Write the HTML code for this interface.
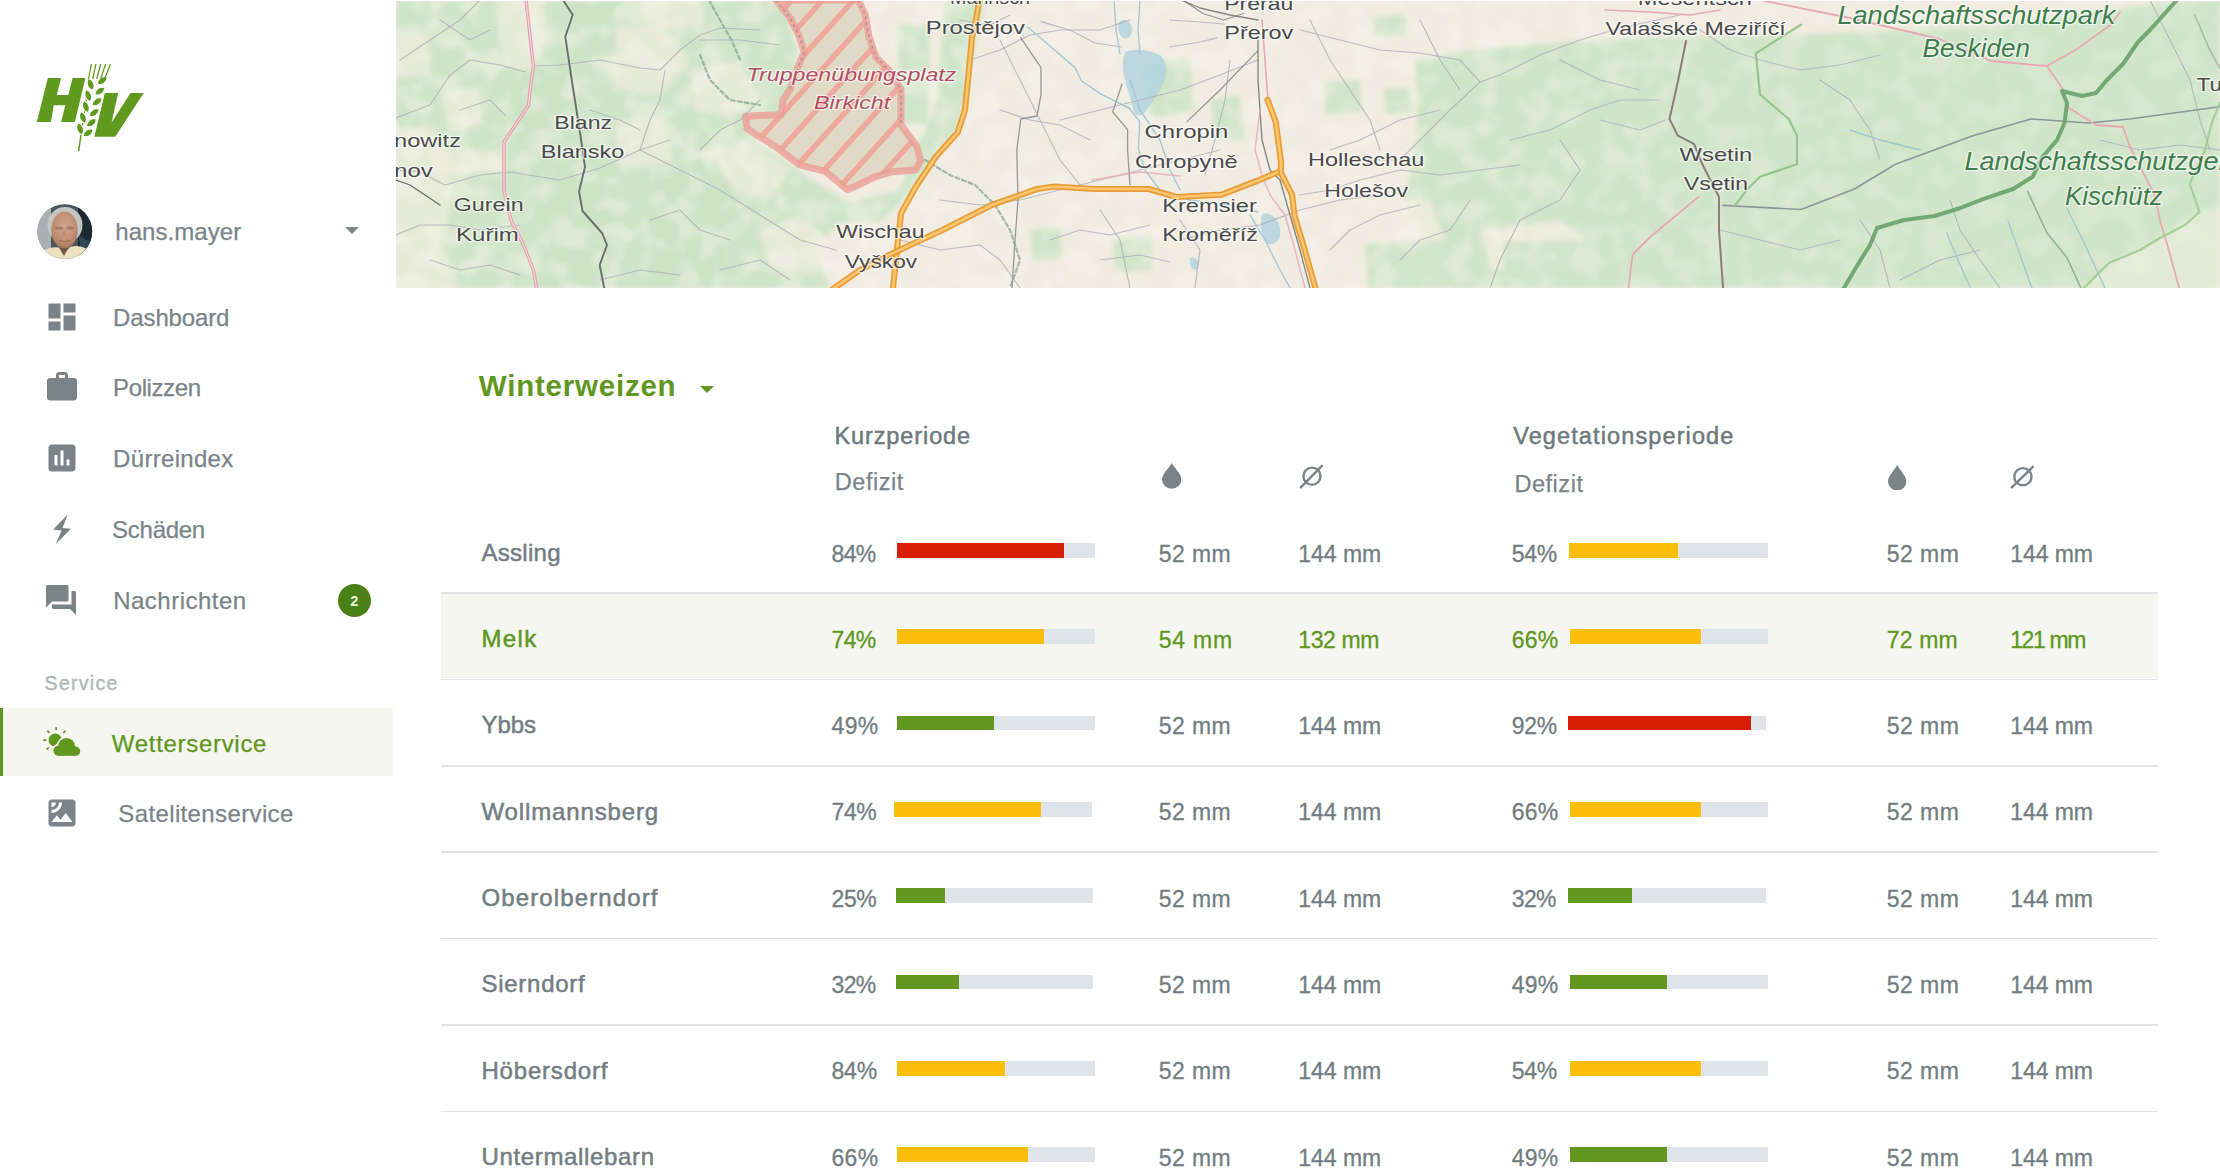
<!DOCTYPE html>
<html><head><meta charset="utf-8"><title>Wetterservice</title>
<style>
html,body{margin:0;padding:0}
body{width:2220px;height:1174px;overflow:hidden;position:relative;background:#fff;font-family:"Liberation Sans",sans-serif}
.abs{position:absolute}
.t{position:absolute;white-space:nowrap;line-height:1}
.tri{width:0;height:0;border-style:solid}
</style></head><body>
<svg class="abs" style="left:396px;top:1px" width="1824" height="287" viewBox="396 1 1824 287">
<defs><clipPath id="mc"><path d="M396,1 H2220 V288 H399 A3,3 0 0 1 396,285 Z"/></clipPath><pattern id="hatch" patternUnits="userSpaceOnUse" width="27" height="27" patternTransform="rotate(-38)"><rect width="22" height="22" fill="#e4dccb"/><rect width="22" height="5" fill="#eba69b"/></pattern><filter id="blur1" x="-5%" y="-5%" width="110%" height="110%"><feGaussianBlur stdDeviation="2.5"/></filter><filter id="mottle" x="396" y="0" width="1824" height="290" filterUnits="userSpaceOnUse"><feTurbulence type="fractalNoise" baseFrequency="0.04" numOctaves="2" seed="11" result="n"/><feColorMatrix in="n" type="matrix" values="0 0 0 0 0.95  0 0 0 0 0.93  0 0 0 0 0.885  4.5 0 0 0 -2.0"/><feGaussianBlur stdDeviation="1.2"/></filter></defs>
<g clip-path="url(#mc)">
<rect x="396" y="0" width="1824" height="290" fill="#f1ece1"/>
<g filter="url(#blur1)">
<polygon points="396,0 783,0 800,60 790,95 780,118 745,118 748,135 805,175 850,203 900,190 915,150 935,110 940,60 945,0 985,0 960,125 935,160 905,200 880,222 840,222 815,250 830,288 396,288" fill="#d0e5c8" fill-opacity="1" />
<polygon points="396,130 430,125 448,150 452,200 440,240 460,288 396,288" fill="#f1ece1" fill-opacity="0.65" />
<polygon points="500,0 545,0 548,40 530,72 505,66 498,30" fill="#f1ece1" fill-opacity="0.65" />
<polygon points="440,90 478,88 482,125 450,132" fill="#f1ece1" fill-opacity="0.65" />
<polygon points="430,150 500,150 505,172 435,175" fill="#f1ece1" fill-opacity="0.65" />
<polygon points="600,30 660,25 690,60 660,95 615,90" fill="#f1ece1" fill-opacity="0.65" />
<polygon points="690,70 740,60 760,100 730,118 695,110" fill="#f1ece1" fill-opacity="0.65" />
<polygon points="615,120 665,118 672,160 620,170" fill="#f1ece1" fill-opacity="0.65" />
<polygon points="396,35 428,35 430,75 396,78" fill="#f1ece1" fill-opacity="0.65" />
<polygon points="700,150 750,140 790,170 770,200 720,190" fill="#f1ece1" fill-opacity="0.65" />
<polygon points="640,0 700,0 705,25 650,30" fill="#f1ece1" fill-opacity="0.65" />
<polygon points="760,230 800,215 830,240 815,275 770,270" fill="#f1ece1" fill-opacity="0.65" />
<polygon points="560,230 600,220 610,260 570,265" fill="#f1ece1" fill-opacity="0.65" />
<polygon points="508,72 568,68 575,140 520,150" fill="#cbe2c3" fill-opacity="0.9" />
<polygon points="533,165 615,160 625,288 540,288" fill="#cbe2c3" fill-opacity="0.9" />
<polygon points="655,165 716,160 740,200 720,288 650,288" fill="#cbe2c3" fill-opacity="0.9" />
<polygon points="570,0 620,0 615,55 575,60" fill="#cbe2c3" fill-opacity="0.9" />
<polygon points="1415,62 1470,50 1560,42 1640,38 1700,38 1760,36 1820,34 1900,30 2000,26 2100,10 2200,0 2220,0 2220,288 1440,288 1432,250 1405,205 1418,130" fill="#d0e5c8" fill-opacity="1" />
<polygon points="1308,195 1430,200 1445,240 1440,288 1308,288" fill="#f1ece1" fill-opacity="0.8" />
<polygon points="1480,230 1560,220 1600,250 1560,275 1490,270" fill="#f1ece1" fill-opacity="0.8" />
<polygon points="2081,292 2109,263 2160,238 2199,212 2220,205 2220,292" fill="#e4ebd8" fill-opacity="0.95" />
<polygon points="1140,62 1189,58 1195,110 1150,118" fill="#d0e5c8" fill-opacity="0.95" />
<polygon points="1324,82 1360,80 1362,112 1326,114" fill="#d0e5c8" fill-opacity="0.95" />
<polygon points="1384,89 1411,88 1413,113 1385,114" fill="#d0e5c8" fill-opacity="0.95" />
<polygon points="1373,16 1405,15 1407,35 1375,36" fill="#d0e5c8" fill-opacity="0.95" />
<polygon points="1113,238 1151,236 1152,270 1115,272" fill="#d0e5c8" fill-opacity="0.95" />
<polygon points="1365,243 1460,240 1462,288 1368,288" fill="#d0e5c8" fill-opacity="0.95" />
<polygon points="1503,243 1600,240 1600,288 1505,288" fill="#d0e5c8" fill-opacity="0.95" />
<polygon points="897,25 930,25 928,125 900,123" fill="#d0e5c8" fill-opacity="0.95" />
<polygon points="1030,230 1060,228 1062,258 1032,260" fill="#d0e5c8" fill-opacity="0.95" />
<polygon points="1210,100 1240,95 1245,140 1215,140" fill="#d0e5c8" fill-opacity="0.95" />
</g>
<mask id="mm"><rect x="396" y="0" width="1824" height="290" fill="url(#mg)"/></mask>
<linearGradient id="mg" gradientUnits="userSpaceOnUse" x1="396" y1="0" x2="2220" y2="0"><stop offset="0" stop-color="#fff" stop-opacity="0.38"/><stop offset="0.3" stop-color="#fff" stop-opacity="0.35"/><stop offset="0.6" stop-color="#fff" stop-opacity="0.3"/><stop offset="1" stop-color="#fff" stop-opacity="0.15"/></linearGradient>
<rect x="396" y="0" width="1824" height="290" filter="url(#mottle)" mask="url(#mm)"/>
<path d="M1125,52 C1135,48 1150,50 1160,55 C1167,60 1168,75 1163,85 C1158,95 1150,105 1145,112 C1140,118 1134,116 1133,108 C1131,98 1127,90 1125,80 C1122,70 1122,60 1125,52Z" fill="#b3d4de" fill-opacity="0.85"/>
<path d="M1119,22 C1124,18 1131,20 1132,28 C1133,35 1128,40 1123,38 C1119,35 1117,28 1119,22Z" fill="#b3d4de" fill-opacity="0.85"/>
<path d="M1262,214 C1270,212 1278,218 1280,228 C1282,238 1276,246 1268,244 C1262,240 1259,225 1262,214Z" fill="#b3d4de" fill-opacity="0.85"/>
<path d="M1190,258 C1196,256 1200,262 1198,268 C1195,272 1189,270 1190,258Z" fill="#b3d4de" fill-opacity="0.85"/>
<clipPath id="milc"><polygon points="775.8,0 790,17.9 799,35.8 804.4,51.9 799,64.4 790,89.4 783,100 781,114.5 745.4,116.3 747,128.8 775.8,146.7 799,164.6 825.9,171.7 847.3,189.6 856.3,186 874.2,177.1 892,171.7 915.3,170 920.7,161 917,146.7 901,125.2 901,89.4 890.3,71.6 876,57.2 868.8,35.8 865.2,14.3 858,0"/></clipPath>
<polygon points="775.8,0 790,17.9 799,35.8 804.4,51.9 799,64.4 790,89.4 783,100 781,114.5 745.4,116.3 747,128.8 775.8,146.7 799,164.6 825.9,171.7 847.3,189.6 856.3,186 874.2,177.1 892,171.7 915.3,170 920.7,161 917,146.7 901,125.2 901,89.4 890.3,71.6 876,57.2 868.8,35.8 865.2,14.3 858,0" fill="#e0d9c6"/>
<g clip-path="url(#milc)" stroke="#eda99e" stroke-width="5.5">
<line x1="287.4" y1="10.1" x2="688.9" y2="-435.7"/>
<line x1="304.5" y1="25.5" x2="706.0" y2="-420.4"/>
<line x1="321.6" y1="40.9" x2="723.1" y2="-405.0"/>
<line x1="338.7" y1="56.3" x2="740.2" y2="-389.6"/>
<line x1="355.8" y1="71.7" x2="757.3" y2="-374.2"/>
<line x1="372.9" y1="87.1" x2="774.4" y2="-358.8"/>
<line x1="390.0" y1="102.5" x2="791.4" y2="-343.4"/>
<line x1="407.1" y1="117.9" x2="808.5" y2="-328.0"/>
<line x1="424.2" y1="133.3" x2="825.6" y2="-312.6"/>
<line x1="441.2" y1="148.7" x2="842.7" y2="-297.2"/>
<line x1="458.3" y1="164.0" x2="859.8" y2="-281.8"/>
<line x1="475.4" y1="179.4" x2="876.9" y2="-266.5"/>
<line x1="492.5" y1="194.8" x2="894.0" y2="-251.1"/>
<line x1="509.6" y1="210.2" x2="911.1" y2="-235.7"/>
<line x1="526.7" y1="225.6" x2="928.2" y2="-220.3"/>
<line x1="543.8" y1="241.0" x2="945.3" y2="-204.9"/>
<line x1="560.9" y1="256.4" x2="962.4" y2="-189.5"/>
<line x1="578.0" y1="271.8" x2="979.5" y2="-174.1"/>
<line x1="595.1" y1="287.2" x2="996.6" y2="-158.7"/>
<line x1="612.2" y1="302.6" x2="1013.6" y2="-143.3"/>
<line x1="629.3" y1="317.9" x2="1030.7" y2="-127.9"/>
<line x1="646.4" y1="333.3" x2="1047.8" y2="-112.6"/>
<line x1="663.4" y1="348.7" x2="1064.9" y2="-97.2"/>
<line x1="680.5" y1="364.1" x2="1082.0" y2="-81.8"/>
<line x1="697.6" y1="379.5" x2="1099.1" y2="-66.4"/>
<line x1="714.7" y1="394.9" x2="1116.2" y2="-51.0"/>
<line x1="731.8" y1="410.3" x2="1133.3" y2="-35.6"/>
<line x1="748.9" y1="425.7" x2="1150.4" y2="-20.2"/>
<line x1="766.0" y1="441.1" x2="1167.5" y2="-4.8"/>
<line x1="783.1" y1="456.5" x2="1184.6" y2="10.6"/>
<line x1="800.2" y1="471.8" x2="1201.7" y2="26.0"/>
<line x1="817.3" y1="487.2" x2="1218.8" y2="41.3"/>
<line x1="834.4" y1="502.6" x2="1235.8" y2="56.7"/>
<line x1="851.5" y1="518.0" x2="1252.9" y2="72.1"/>
<line x1="868.6" y1="533.4" x2="1270.0" y2="87.5"/>
<line x1="885.6" y1="548.8" x2="1287.1" y2="102.9"/>
<line x1="902.7" y1="564.2" x2="1304.2" y2="118.3"/>
<line x1="919.8" y1="579.6" x2="1321.3" y2="133.7"/>
<line x1="936.9" y1="595.0" x2="1338.4" y2="149.1"/>
<line x1="954.0" y1="610.4" x2="1355.5" y2="164.5"/>
</g>
<polygon points="775.8,0 790,17.9 799,35.8 804.4,51.9 799,64.4 790,89.4 783,100 781,114.5 745.4,116.3 747,128.8 775.8,146.7 799,164.6 825.9,171.7 847.3,189.6 856.3,186 874.2,177.1 892,171.7 915.3,170 920.7,161 917,146.7 901,125.2 901,89.4 890.3,71.6 876,57.2 868.8,35.8 865.2,14.3 858,0" fill="none" stroke="#eb9f96" stroke-width="7" stroke-opacity="0.8" stroke-linejoin="round"/>
<polyline points="775.8,0 790,17.9 799,35.8 804.4,51.9 799,64.4 790,89.4" fill="none" stroke="#9a8f8a" stroke-width="1.6" stroke-dasharray="3 3" opacity="0.7"/>
<polyline points="858,0 865.2,14.3 868.8,35.8 876,57.2 890.3,71.6 901,89.4 901,125.2" fill="none" stroke="#9a8f8a" stroke-width="1.6" stroke-dasharray="3 3" opacity="0.7"/>
<polyline points="396,118 430,105 450,75 470,60 500,65 525,72" fill="none" stroke="#b2b2ba" stroke-width="1.2" stroke-opacity="0.85" stroke-linejoin="round" stroke-linecap="round"/>
<polyline points="396,170 420,172 445,185 480,175 510,172 560,180 600,168 640,150 670,140" fill="none" stroke="#b2b2ba" stroke-width="1.2" stroke-opacity="0.85" stroke-linejoin="round" stroke-linecap="round"/>
<polyline points="396,235 420,225 450,225 480,230 520,225" fill="none" stroke="#b2b2ba" stroke-width="1.2" stroke-opacity="0.85" stroke-linejoin="round" stroke-linecap="round"/>
<polyline points="533,66 560,65 600,60 640,68 660,70" fill="none" stroke="#b2b2ba" stroke-width="1.2" stroke-opacity="0.85" stroke-linejoin="round" stroke-linecap="round"/>
<polyline points="660,70 680,50 700,35 720,28 760,30" fill="none" stroke="#b2b2ba" stroke-width="1.2" stroke-opacity="0.85" stroke-linejoin="round" stroke-linecap="round"/>
<polyline points="640,150 650,120 660,100 665,70" fill="none" stroke="#b2b2ba" stroke-width="1.2" stroke-opacity="0.85" stroke-linejoin="round" stroke-linecap="round"/>
<polyline points="700,150 720,130 740,120 760,100" fill="none" stroke="#b2b2ba" stroke-width="1.2" stroke-opacity="0.85" stroke-linejoin="round" stroke-linecap="round"/>
<polyline points="640,150 680,170 720,190 760,215 800,240 836,250" fill="none" stroke="#b2b2ba" stroke-width="1.2" stroke-opacity="0.85" stroke-linejoin="round" stroke-linecap="round"/>
<polyline points="700,40 740,40 780,45" fill="none" stroke="#b2b2ba" stroke-width="1.2" stroke-opacity="0.85" stroke-linejoin="round" stroke-linecap="round"/>
<polyline points="970,60 1000,50 1030,35 1060,30 1100,30 1130,20" fill="none" stroke="#b2b2ba" stroke-width="1.2" stroke-opacity="0.85" stroke-linejoin="round" stroke-linecap="round"/>
<polyline points="1000,40 1020,80 1040,120 1060,160 1080,185" fill="none" stroke="#b2b2ba" stroke-width="1.2" stroke-opacity="0.85" stroke-linejoin="round" stroke-linecap="round"/>
<polyline points="940,200 980,205 1020,200 1060,190 1100,180 1140,170 1180,160 1220,150" fill="none" stroke="#b2b2ba" stroke-width="1.2" stroke-opacity="0.85" stroke-linejoin="round" stroke-linecap="round"/>
<polyline points="1060,120 1100,110 1140,100 1180,90 1220,75 1258,60" fill="none" stroke="#b2b2ba" stroke-width="1.2" stroke-opacity="0.85" stroke-linejoin="round" stroke-linecap="round"/>
<polyline points="1180,240 1220,230 1260,225 1300,210 1340,200 1380,195" fill="none" stroke="#b2b2ba" stroke-width="1.2" stroke-opacity="0.85" stroke-linejoin="round" stroke-linecap="round"/>
<polyline points="1300,195 1330,190 1360,180 1400,170 1440,175 1480,170 1520,165" fill="none" stroke="#b2b2ba" stroke-width="1.2" stroke-opacity="0.85" stroke-linejoin="round" stroke-linecap="round"/>
<polyline points="1300,30 1340,40 1380,50 1420,53 1460,60 1480,82 1500,75 1540,55 1580,40 1620,28 1680,15" fill="none" stroke="#b2b2ba" stroke-width="1.2" stroke-opacity="0.85" stroke-linejoin="round" stroke-linecap="round"/>
<polyline points="1480,82 1450,110 1420,140 1400,160 1370,160" fill="none" stroke="#b2b2ba" stroke-width="1.2" stroke-opacity="0.85" stroke-linejoin="round" stroke-linecap="round"/>
<polyline points="1510,140 1550,130 1590,110 1620,100 1660,100" fill="none" stroke="#b2b2ba" stroke-width="1.2" stroke-opacity="0.85" stroke-linejoin="round" stroke-linecap="round"/>
<polyline points="1560,140 1580,170 1560,200 1520,220 1500,260 1490,288" fill="none" stroke="#b2b2ba" stroke-width="1.2" stroke-opacity="0.85" stroke-linejoin="round" stroke-linecap="round"/>
<polyline points="1700,30 1730,50 1760,60 1800,70 1840,65 1880,55" fill="none" stroke="#b2b2ba" stroke-width="1.2" stroke-opacity="0.85" stroke-linejoin="round" stroke-linecap="round"/>
<polyline points="1820,80 1850,100 1870,130 1880,160" fill="none" stroke="#b2b2ba" stroke-width="1.2" stroke-opacity="0.85" stroke-linejoin="round" stroke-linecap="round"/>
<polyline points="1950,200 1960,230 1980,260 2000,288" fill="none" stroke="#b2b2ba" stroke-width="1.2" stroke-opacity="0.85" stroke-linejoin="round" stroke-linecap="round"/>
<polyline points="1860,220 1880,250 1890,288" fill="none" stroke="#b2b2ba" stroke-width="1.2" stroke-opacity="0.85" stroke-linejoin="round" stroke-linecap="round"/>
<polyline points="2150,0 2170,40 2190,80 2200,120 2210,150" fill="none" stroke="#b2b2ba" stroke-width="1.2" stroke-opacity="0.85" stroke-linejoin="round" stroke-linecap="round"/>
<polyline points="900,240 940,250 980,245 1000,260 1020,288" fill="none" stroke="#b2b2ba" stroke-width="1.2" stroke-opacity="0.85" stroke-linejoin="round" stroke-linecap="round"/>
<polyline points="1100,210 1120,240 1130,288" fill="none" stroke="#b2b2ba" stroke-width="1.2" stroke-opacity="0.85" stroke-linejoin="round" stroke-linecap="round"/>
<polyline points="1180,220 1200,250 1195,288" fill="none" stroke="#b2b2ba" stroke-width="1.2" stroke-opacity="0.85" stroke-linejoin="round" stroke-linecap="round"/>
<polyline points="400,60 430,40 460,20 480,0" fill="none" stroke="#b2b2ba" stroke-width="1.2" stroke-opacity="0.85" stroke-linejoin="round" stroke-linecap="round"/>
<polyline points="590,110 620,120 640,130" fill="none" stroke="#b2b2ba" stroke-width="1.2" stroke-opacity="0.85" stroke-linejoin="round" stroke-linecap="round"/>
<polyline points="1230,60 1225,100 1215,140 1205,175" fill="none" stroke="#b2b2ba" stroke-width="1.2" stroke-opacity="0.85" stroke-linejoin="round" stroke-linecap="round"/>
<polyline points="1041,21.6 1070,30 1095,43 1122,47" fill="none" stroke="#b2b2ba" stroke-width="1.2" stroke-opacity="0.85" stroke-linejoin="round" stroke-linecap="round"/>
<polyline points="1169.5,20 1200,22 1223.5,24" fill="none" stroke="#b2b2ba" stroke-width="1.2" stroke-opacity="0.85" stroke-linejoin="round" stroke-linecap="round"/>
<polyline points="1169.5,47 1200,42 1216.8,37.8" fill="none" stroke="#b2b2ba" stroke-width="1.2" stroke-opacity="0.85" stroke-linejoin="round" stroke-linecap="round"/>
<polyline points="1310,20 1330,60 1350,90 1370,120 1380,150" fill="none" stroke="#b2b2ba" stroke-width="1.2" stroke-opacity="0.85" stroke-linejoin="round" stroke-linecap="round"/>
<polyline points="1420,20 1440,60 1460,90" fill="none" stroke="#b2b2ba" stroke-width="1.2" stroke-opacity="0.85" stroke-linejoin="round" stroke-linecap="round"/>
<polyline points="1330,150 1360,140 1400,120 1440,110" fill="none" stroke="#b2b2ba" stroke-width="1.2" stroke-opacity="0.85" stroke-linejoin="round" stroke-linecap="round"/>
<polyline points="1330,250 1350,230 1380,215 1420,205" fill="none" stroke="#b2b2ba" stroke-width="1.2" stroke-opacity="0.85" stroke-linejoin="round" stroke-linecap="round"/>
<polyline points="1400,260 1420,240 1450,230 1470,200" fill="none" stroke="#b2b2ba" stroke-width="1.2" stroke-opacity="0.85" stroke-linejoin="round" stroke-linecap="round"/>
<polyline points="1050,240 1080,230 1110,235 1150,225" fill="none" stroke="#b2b2ba" stroke-width="1.2" stroke-opacity="0.85" stroke-linejoin="round" stroke-linecap="round"/>
<polyline points="1000,110 1030,120 1060,125 1090,140" fill="none" stroke="#b2b2ba" stroke-width="1.2" stroke-opacity="0.85" stroke-linejoin="round" stroke-linecap="round"/>
<polyline points="960,20 990,25 1010,15" fill="none" stroke="#b2b2ba" stroke-width="1.2" stroke-opacity="0.85" stroke-linejoin="round" stroke-linecap="round"/>
<polyline points="1100,260 1140,255 1170,262" fill="none" stroke="#b2b2ba" stroke-width="1.2" stroke-opacity="0.85" stroke-linejoin="round" stroke-linecap="round"/>
<polyline points="440,20 470,40 490,30" fill="none" stroke="#b2b2ba" stroke-width="1.2" stroke-opacity="0.85" stroke-linejoin="round" stroke-linecap="round"/>
<polyline points="460,110 490,100 505,115" fill="none" stroke="#b2b2ba" stroke-width="1.2" stroke-opacity="0.85" stroke-linejoin="round" stroke-linecap="round"/>
<polyline points="430,260 460,270 490,265 520,275" fill="none" stroke="#b2b2ba" stroke-width="1.2" stroke-opacity="0.85" stroke-linejoin="round" stroke-linecap="round"/>
<polyline points="650,220 680,210 700,230 730,240" fill="none" stroke="#b2b2ba" stroke-width="1.2" stroke-opacity="0.85" stroke-linejoin="round" stroke-linecap="round"/>
<polyline points="600,280 640,270 680,275" fill="none" stroke="#b2b2ba" stroke-width="1.2" stroke-opacity="0.85" stroke-linejoin="round" stroke-linecap="round"/>
<polyline points="720,270 760,260 790,280" fill="none" stroke="#b2b2ba" stroke-width="1.2" stroke-opacity="0.85" stroke-linejoin="round" stroke-linecap="round"/>
<polyline points="1600,120 1640,130 1665,120" fill="none" stroke="#b2b2ba" stroke-width="1.2" stroke-opacity="0.85" stroke-linejoin="round" stroke-linecap="round"/>
<polyline points="1560,60 1600,80 1640,90" fill="none" stroke="#b2b2ba" stroke-width="1.2" stroke-opacity="0.85" stroke-linejoin="round" stroke-linecap="round"/>
<polyline points="1720,230 1760,240 1800,250 1840,240" fill="none" stroke="#b2b2ba" stroke-width="1.2" stroke-opacity="0.85" stroke-linejoin="round" stroke-linecap="round"/>
<polyline points="1900,280 1940,260 1980,250" fill="none" stroke="#b2b2ba" stroke-width="1.2" stroke-opacity="0.85" stroke-linejoin="round" stroke-linecap="round"/>
<polyline points="2100,140 2140,150 2180,145 2220,150" fill="none" stroke="#b2b2ba" stroke-width="1.2" stroke-opacity="0.85" stroke-linejoin="round" stroke-linecap="round"/>
<polyline points="1020.8,37.8 1041,67.6 1041,94.6 1037,116 1020.8,119 1016.8,150 1018,200 1015,240 1012,288" fill="none" stroke="#8b8d90" stroke-width="1.3" stroke-opacity="0.9" stroke-linejoin="round" stroke-linecap="round"/>
<polyline points="1122,84 1112.7,112 1127.6,129.7 1127.6,150 1130,185" fill="none" stroke="#8b8d90" stroke-width="1.3" stroke-opacity="0.9" stroke-linejoin="round" stroke-linecap="round"/>
<polyline points="1187,121.6 1220,90 1257.3,51.4" fill="none" stroke="#8b8d90" stroke-width="1.3" stroke-opacity="0.9" stroke-linejoin="round" stroke-linecap="round"/>
<polyline points="1183,0 1203,13.5 1223.5,20 1243.8,13.5" fill="none" stroke="#8b8d90" stroke-width="1.3" stroke-opacity="0.9" stroke-linejoin="round" stroke-linecap="round"/>
<polyline points="1027.6,27 1054.6,50 1074.9,67.6 1081.6,81 1101.9,94.6 1129,108 1139.7,121.6 1138.4,148.6 1145,170 1160,190 1190,200 1230,205 1258,212" fill="none" stroke="#9cc3d3" stroke-width="1.4" stroke-opacity="0.9" stroke-linejoin="round" stroke-linecap="round"/>
<polyline points="1114,0 1116,30 1120,54" fill="none" stroke="#9cc3d3" stroke-width="1.4" stroke-opacity="0.9" stroke-linejoin="round" stroke-linecap="round"/>
<polyline points="1140,0 1138,30 1140,54" fill="none" stroke="#9cc3d3" stroke-width="1.4" stroke-opacity="0.9" stroke-linejoin="round" stroke-linecap="round"/>
<polyline points="1130,80 1140,110 1160,140 1170,170 1180,190" fill="none" stroke="#9cc3d3" stroke-width="1.4" stroke-opacity="0.9" stroke-linejoin="round" stroke-linecap="round"/>
<polyline points="1250,215 1265,240 1280,270 1290,288" fill="none" stroke="#9cc3d3" stroke-width="1.4" stroke-opacity="0.9" stroke-linejoin="round" stroke-linecap="round"/>
<polyline points="1850,130 1880,140 1920,150" fill="none" stroke="#9cc3d3" stroke-width="1.4" stroke-opacity="0.9" stroke-linejoin="round" stroke-linecap="round"/>
<polyline points="2008,220.8 2020,255 2032.7,290" fill="none" stroke="#9cc3d3" stroke-width="1.4" stroke-opacity="0.9" stroke-linejoin="round" stroke-linecap="round"/>
<polyline points="2067,208.5 2085,245 2106,290" fill="none" stroke="#9cc3d3" stroke-width="1.4" stroke-opacity="0.9" stroke-linejoin="round" stroke-linecap="round"/>
<polyline points="1946.8,233 1958,260 1971.4,290" fill="none" stroke="#9cc3d3" stroke-width="1.4" stroke-opacity="0.9" stroke-linejoin="round" stroke-linecap="round"/>
<polyline points="2027.6,191.4 2047,233 2067,257.6 2081.8,290" fill="none" stroke="#88a88a" stroke-width="1.5" stroke-opacity="0.9" stroke-linejoin="round" stroke-linecap="round"/>
<polyline points="563,0 572.7,14.7 565.3,36.8 572.7,86 580,132.5 585,167 579,191.4 582.5,211 602,233 607,245 599.7,265 604.6,290" fill="none" stroke="#6b6e70" stroke-width="1.9" stroke-opacity="1" stroke-linejoin="round" stroke-linecap="round"/>
<polyline points="396,180 410,185 425,195 440,205" fill="none" stroke="#6b6e70" stroke-width="1.3" stroke-opacity="1" stroke-linejoin="round" stroke-linecap="round"/>
<polyline points="1258,40 1258,80 1260,110 1262,140 1270,170 1280,180 1290,215 1300,250 1310,288" fill="none" stroke="#6b6e70" stroke-width="1.3" stroke-opacity="0.85" stroke-linejoin="round" stroke-linecap="round"/>
<polyline points="1181,0 1200,8 1230,15 1258,20" fill="none" stroke="#6b6e70" stroke-width="1.3" stroke-opacity="0.8" stroke-linejoin="round" stroke-linecap="round"/>
<polyline points="1723,205.4 1801,209.5 1854.4,189 1895.5,164.3 1973.6,135.6 2031,119 2088.6,123 2129.7,119 2220,106.8" fill="none" stroke="#7f8794" stroke-width="1.6" stroke-opacity="0.85" stroke-linejoin="round" stroke-linecap="round"/>
<polyline points="1686,41 1677.8,82 1669.5,119 1677.8,135.6 1694,143.8 1702.4,164.3 1719,197 1719,230 1723,287.6" fill="none" stroke="#806a6c" stroke-width="2.0" stroke-opacity="0.85" stroke-linejoin="round" stroke-linecap="round"/>
<polyline points="526,0 533.4,66 529.7,93 528.5,105.5 504,142 504,191 511.3,221 523.6,245 533.4,270 537,290" fill="none" stroke="#e6a0ad" stroke-width="3.4" stroke-opacity="1" stroke-linejoin="round" stroke-linecap="round"/>
<polyline points="526,0 533.4,66 529.7,93 528.5,105.5 504,142 504,191 511.3,221 523.6,245 533.4,270 537,290" fill="none" stroke="#f6d6dc" stroke-width="1.2" stroke-opacity="1" stroke-linejoin="round" stroke-linecap="round"/>
<polyline points="1698.3,197 1649,238 1632.6,254.7 1628.5,288" fill="none" stroke="#e9a7b2" stroke-width="1.8" stroke-opacity="1" stroke-linejoin="round" stroke-linecap="round"/>
<polyline points="1760,0 1850,18 1910,32 1939.5,39 1991,61 2047,66 2062,88 2069,108 2096,125 2123,127 2130,147 2142.6,171.7 2155,196 2160,221 2167.5,245.5 2179.7,290" fill="none" stroke="#e9a7b2" stroke-width="1.8" stroke-opacity="1" stroke-linejoin="round" stroke-linecap="round"/>
<polyline points="2047,66 2077,49 2111,24.5 2120,12" fill="none" stroke="#e9a7b2" stroke-width="1.6" stroke-opacity="1" stroke-linejoin="round" stroke-linecap="round"/>
<polyline points="1262,20 1265,60 1268,100" fill="none" stroke="#e9a7b2" stroke-width="1.6" stroke-opacity="1" stroke-linejoin="round" stroke-linecap="round"/>
<polyline points="1260,110 1255,150 1262,175 1270,195 1285,215 1295,250 1305,288" fill="none" stroke="#e9a7b2" stroke-width="1.5" stroke-opacity="0.8" stroke-linejoin="round" stroke-linecap="round"/>
<polyline points="1605,10 1650,12 1690,15 1720,10" fill="none" stroke="#e9a7b2" stroke-width="1.5" stroke-opacity="1" stroke-linejoin="round" stroke-linecap="round"/>
<polyline points="1092,180 1140,172 1180,176" fill="none" stroke="#e9a7b2" stroke-width="1.4" stroke-opacity="0.8" stroke-linejoin="round" stroke-linecap="round"/>
<polyline points="709,0 720,20 732,41 740,60" fill="none" stroke="#8fa99a" stroke-width="2.2" stroke-opacity="0.8" stroke-linejoin="round" stroke-linecap="round" stroke-dasharray="4 3"/>
<polyline points="700,55 710,80 730,100 760,105" fill="none" stroke="#8fa99a" stroke-width="2.2" stroke-opacity="0.8" stroke-linejoin="round" stroke-linecap="round" stroke-dasharray="4 3"/>
<polyline points="925,160 950,175 975,185 995,205 1010,230 1020,260 1010,288" fill="none" stroke="#8fa99a" stroke-width="2.2" stroke-opacity="0.8" stroke-linejoin="round" stroke-linecap="round" stroke-dasharray="4 3"/>
<polyline points="2177,0 2150,30 2138,42 2123,64 2106,81 2096,93 2082,96 2062,91 2067,103 2064.6,122.7 2057,140 2042.5,157 2032.7,176.7 2013,189 1983.6,198.8 1959,208.5 1934.5,216 1904,220 1877,228 1870,245 1857.5,265 1842.8,290" fill="none" stroke="#6fa46f" stroke-width="4.0" stroke-opacity="0.95" stroke-linejoin="round" stroke-linecap="round"/>
<polyline points="1801,24.7 1755.8,53.4 1760,94.5 1788.7,119 1797,135.6 1797,164.3 1760,176.7 1747.6,189 1735,205.4" fill="none" stroke="#8fc08a" stroke-width="2.2" stroke-opacity="0.9" stroke-linejoin="round" stroke-linecap="round"/>
<polyline points="2220,103 2211.8,122.7 2205,150 2189.7,184 2199.5,212 2185,225 2160,238 2140,250 2109,263 2081.7,290" fill="none" stroke="#9fcb95" stroke-width="2.2" stroke-opacity="0.9" stroke-linejoin="round" stroke-linecap="round"/>
<polyline points="2194.6,14.7 2209.4,49 2220,68.7" fill="none" stroke="#a0b8a0" stroke-width="1.6" stroke-opacity="0.9" stroke-linejoin="round" stroke-linecap="round"/>
<polyline points="979.4,0 976,20 972,37 968,80 965,110 957.7,132.5 935.6,157 916,186.5 901,213.5 897.5,245 893,288" fill="none" stroke="#e8982e" stroke-width="6.2" stroke-opacity="0.95" stroke-linejoin="round" stroke-linecap="round"/>
<polyline points="979.4,0 976,20 972,37 968,80 965,110 957.7,132.5 935.6,157 916,186.5 901,213.5 897.5,245 893,288" fill="none" stroke="#fbc66e" stroke-width="2.6" stroke-opacity="1" stroke-linejoin="round" stroke-linecap="round"/>
<polyline points="831.5,290 860,270 889,255 942.4,230 991.7,205 1037,189 1054,186.5 1094.6,189 1148.6,189 1176.6,197 1221.6,194.6 1256.8,181 1278.4,172" fill="none" stroke="#e8982e" stroke-width="6.2" stroke-opacity="0.95" stroke-linejoin="round" stroke-linecap="round"/>
<polyline points="831.5,290 860,270 889,255 942.4,230 991.7,205 1037,189 1054,186.5 1094.6,189 1148.6,189 1176.6,197 1221.6,194.6 1256.8,181 1278.4,172" fill="none" stroke="#fbc66e" stroke-width="2.6" stroke-opacity="1" stroke-linejoin="round" stroke-linecap="round"/>
<polyline points="1267.6,100 1275.7,121.6 1281,162 1281,173 1292,194.6 1294.6,216 1302.7,243 1316,290" fill="none" stroke="#e8982e" stroke-width="6.2" stroke-opacity="0.95" stroke-linejoin="round" stroke-linecap="round"/>
<polyline points="1267.6,100 1275.7,121.6 1281,162 1281,173 1292,194.6 1294.6,216 1302.7,243 1316,290" fill="none" stroke="#fbc66e" stroke-width="2.6" stroke-opacity="1" stroke-linejoin="round" stroke-linecap="round"/>
</g>
<g font-family="Liberation Sans, sans-serif">
<text x="394" y="147.2" font-size="19" fill="#4a4a4a" fill-opacity="1" paint-order="stroke" stroke="#fff" stroke-width="2.6" stroke-opacity="0.6" stroke-linejoin="round" textLength="67.0" lengthAdjust="spacingAndGlyphs">nowitz</text>
<text x="394" y="176.7" font-size="19" fill="#4a4a4a" fill-opacity="1" paint-order="stroke" stroke="#fff" stroke-width="2.6" stroke-opacity="0.6" stroke-linejoin="round" textLength="38.8" lengthAdjust="spacingAndGlyphs">nov</text>
<text x="453.7" y="211" font-size="19" fill="#4a4a4a" fill-opacity="1" paint-order="stroke" stroke="#fff" stroke-width="2.6" stroke-opacity="0.6" stroke-linejoin="round" textLength="69.9" lengthAdjust="spacingAndGlyphs">Gurein</text>
<text x="456.1" y="240.5" font-size="19" fill="#4a4a4a" fill-opacity="1" paint-order="stroke" stroke="#fff" stroke-width="2.6" stroke-opacity="0.6" stroke-linejoin="round" textLength="62.6" lengthAdjust="spacingAndGlyphs">Kuřim</text>
<text x="554.3" y="128.8" font-size="19" fill="#4a4a4a" fill-opacity="1" paint-order="stroke" stroke="#fff" stroke-width="2.6" stroke-opacity="0.6" stroke-linejoin="round" textLength="57.7" lengthAdjust="spacingAndGlyphs">Blanz</text>
<text x="540.8" y="158.3" font-size="19" fill="#4a4a4a" fill-opacity="1" paint-order="stroke" stroke="#fff" stroke-width="2.6" stroke-opacity="0.6" stroke-linejoin="round" textLength="83.4" lengthAdjust="spacingAndGlyphs">Blansko</text>
<text x="746.6" y="81" font-size="19" font-style="italic" fill="#b34f60" fill-opacity="1" paint-order="stroke" stroke="#fff" stroke-width="2.6" stroke-opacity="0.6" stroke-linejoin="round" textLength="209.8" lengthAdjust="spacingAndGlyphs">Truppenübungsplatz</text>
<text x="814.1" y="109.2" font-size="19" font-style="italic" fill="#b34f60" fill-opacity="1" paint-order="stroke" stroke="#fff" stroke-width="2.6" stroke-opacity="0.6" stroke-linejoin="round" textLength="76.1" lengthAdjust="spacingAndGlyphs">Birkicht</text>
<text x="925.8" y="34.4" font-size="19" fill="#4a4a4a" fill-opacity="1" paint-order="stroke" stroke="#fff" stroke-width="2.6" stroke-opacity="0.6" stroke-linejoin="round" textLength="99.2" lengthAdjust="spacingAndGlyphs">Prostějov</text>
<text x="950" y="4" font-size="19" fill="#4a4a4a" fill-opacity="1" paint-order="stroke" stroke="#fff" stroke-width="2.6" stroke-opacity="0.6" stroke-linejoin="round" textLength="80.0" lengthAdjust="spacingAndGlyphs">Mährisch</text>
<text x="836.2" y="238" font-size="19" fill="#4a4a4a" fill-opacity="1" paint-order="stroke" stroke="#fff" stroke-width="2.6" stroke-opacity="0.6" stroke-linejoin="round" textLength="88.3" lengthAdjust="spacingAndGlyphs">Wischau</text>
<text x="844.8" y="267.5" font-size="19" fill="#4a4a4a" fill-opacity="1" paint-order="stroke" stroke="#fff" stroke-width="2.6" stroke-opacity="0.6" stroke-linejoin="round" textLength="72.4" lengthAdjust="spacingAndGlyphs">Vyškov</text>
<text x="1224.3" y="9.5" font-size="19" fill="#4a4a4a" fill-opacity="1" paint-order="stroke" stroke="#fff" stroke-width="2.6" stroke-opacity="0.6" stroke-linejoin="round" textLength="68.9" lengthAdjust="spacingAndGlyphs">Prerau</text>
<text x="1224.3" y="39.2" font-size="19" fill="#4a4a4a" fill-opacity="1" paint-order="stroke" stroke="#fff" stroke-width="2.6" stroke-opacity="0.6" stroke-linejoin="round" textLength="68.9" lengthAdjust="spacingAndGlyphs">Přerov</text>
<text x="1144.6" y="137.8" font-size="19" fill="#4a4a4a" fill-opacity="1" paint-order="stroke" stroke="#fff" stroke-width="2.6" stroke-opacity="0.6" stroke-linejoin="round" textLength="83.8" lengthAdjust="spacingAndGlyphs">Chropin</text>
<text x="1135.1" y="167.6" font-size="19" fill="#4a4a4a" fill-opacity="1" paint-order="stroke" stroke="#fff" stroke-width="2.6" stroke-opacity="0.6" stroke-linejoin="round" textLength="102.7" lengthAdjust="spacingAndGlyphs">Chropyně</text>
<text x="1162.2" y="212.2" font-size="19" fill="#4a4a4a" fill-opacity="1" paint-order="stroke" stroke="#fff" stroke-width="2.6" stroke-opacity="0.6" stroke-linejoin="round" textLength="94.6" lengthAdjust="spacingAndGlyphs">Kremsier</text>
<text x="1162.2" y="240.5" font-size="19" fill="#4a4a4a" fill-opacity="1" paint-order="stroke" stroke="#fff" stroke-width="2.6" stroke-opacity="0.6" stroke-linejoin="round" textLength="95.9" lengthAdjust="spacingAndGlyphs">Kroměříž</text>
<text x="1308" y="166.2" font-size="19" fill="#4a4a4a" fill-opacity="1" paint-order="stroke" stroke="#fff" stroke-width="2.6" stroke-opacity="0.6" stroke-linejoin="round" textLength="116.3" lengthAdjust="spacingAndGlyphs">Holleschau</text>
<text x="1324.3" y="196.8" font-size="19" fill="#4a4a4a" fill-opacity="1" paint-order="stroke" stroke="#fff" stroke-width="2.6" stroke-opacity="0.6" stroke-linejoin="round" textLength="83.7" lengthAdjust="spacingAndGlyphs">Holešov</text>
<text x="1637.7" y="5" font-size="19" fill="#4a4a4a" fill-opacity="1" paint-order="stroke" stroke="#fff" stroke-width="2.6" stroke-opacity="0.6" stroke-linejoin="round" textLength="114.3" lengthAdjust="spacingAndGlyphs">Meseritsch</text>
<text x="1605.6" y="35" font-size="19" fill="#4a4a4a" fill-opacity="1" paint-order="stroke" stroke="#fff" stroke-width="2.6" stroke-opacity="0.6" stroke-linejoin="round" textLength="180.2" lengthAdjust="spacingAndGlyphs">Valašské Meziříčí</text>
<text x="1679.6" y="160.6" font-size="19" fill="#4a4a4a" fill-opacity="1" paint-order="stroke" stroke="#fff" stroke-width="2.6" stroke-opacity="0.6" stroke-linejoin="round" textLength="72.6" lengthAdjust="spacingAndGlyphs">Wsetin</text>
<text x="1683.8" y="190" font-size="19" fill="#4a4a4a" fill-opacity="1" paint-order="stroke" stroke="#fff" stroke-width="2.6" stroke-opacity="0.6" stroke-linejoin="round" textLength="64.2" lengthAdjust="spacingAndGlyphs">Vsetin</text>
<text x="1837.4" y="23.7" font-size="25" font-style="italic" fill="#3f7d4c" fill-opacity="1" paint-order="stroke" stroke="#fff" stroke-width="2.6" stroke-opacity="0.6" stroke-linejoin="round" textLength="278.0" lengthAdjust="spacingAndGlyphs">Landschaftsschutzpark</text>
<text x="1922.6" y="57.3" font-size="25" font-style="italic" fill="#3f7d4c" fill-opacity="1" paint-order="stroke" stroke="#fff" stroke-width="2.6" stroke-opacity="0.6" stroke-linejoin="round" textLength="107.4" lengthAdjust="spacingAndGlyphs">Beskiden</text>
<text x="1964.5" y="170.4" font-size="25" font-style="italic" fill="#3f7d4c" fill-opacity="1" paint-order="stroke" stroke="#fff" stroke-width="2.6" stroke-opacity="0.6" stroke-linejoin="round" textLength="297.5" lengthAdjust="spacingAndGlyphs">Landschaftsschutzgebiet</text>
<text x="2065" y="205.3" font-size="25" font-style="italic" fill="#3f7d4c" fill-opacity="1" paint-order="stroke" stroke="#fff" stroke-width="2.6" stroke-opacity="0.6" stroke-linejoin="round" textLength="97.8" lengthAdjust="spacingAndGlyphs">Kischütz</text>
<text x="2196.4" y="90.8" font-size="19" fill="#4a4a4a" fill-opacity="1" paint-order="stroke" stroke="#fff" stroke-width="2.6" stroke-opacity="0.6" stroke-linejoin="round" textLength="25.6" lengthAdjust="spacingAndGlyphs">Tu</text>
</g>
</svg>
<svg class="abs" style="left:0;top:0" width="396" height="170" viewBox="0 0 396 170">
<g fill="#5f9a1f">
<polygon points="47.9,78 61.1,78 56.8,95 68.3,95 72.6,78 85.4,78 74.9,121.9 61.1,121.9 65.3,105.3 53.7,105.3 50.9,121.9 36.8,121.9"/>
<polygon points="104.8,93 118.2,93 111.6,122.5 130.5,93 143.7,93 115.2,136.8 94.3,136.8"/>
</g>
<polygon points="76,128 86.5,76 108.5,76 94,137 80,152 77.5,152" fill="#fff"/>
<line x1="78.6" y1="151" x2="87.5" y2="92" stroke="#5f9a1f" stroke-width="1.5"/>
<g fill="#5f9a1f" stroke="#fff" stroke-width="1.1"><path d="M0,-6.40 C4.32,-2.88 4.32,3.52 0,6.40 C-4.32,3.52 -4.32,-2.88 0,-6.40Z" transform="translate(90.6,84.3) rotate(-20)"/><path d="M0,-6.40 C4.32,-2.88 4.32,3.52 0,6.40 C-4.32,3.52 -4.32,-2.88 0,-6.40Z" transform="translate(88.2,95.6) rotate(-20)"/><path d="M0,-6.40 C4.32,-2.88 4.32,3.52 0,6.40 C-4.32,3.52 -4.32,-2.88 0,-6.40Z" transform="translate(85.8,106.5) rotate(-20)"/><path d="M0,-6.40 C4.32,-2.88 4.32,3.52 0,6.40 C-4.32,3.52 -4.32,-2.88 0,-6.40Z" transform="translate(82.9,117.4) rotate(-20)"/><path d="M0,-6.40 C4.32,-2.88 4.32,3.52 0,6.40 C-4.32,3.52 -4.32,-2.88 0,-6.40Z" transform="translate(80.1,128.8) rotate(-20)"/><path d="M0,-6.15 C4.19,-2.77 4.19,3.38 0,6.15 C-4.19,3.38 -4.19,-2.77 0,-6.15Z" transform="translate(102.4,80.6) rotate(55)"/><path d="M0,-6.15 C4.19,-2.77 4.19,3.38 0,6.15 C-4.19,3.38 -4.19,-2.77 0,-6.15Z" transform="translate(99.9,91.1) rotate(55)"/><path d="M0,-6.15 C4.19,-2.77 4.19,3.38 0,6.15 C-4.19,3.38 -4.19,-2.77 0,-6.15Z" transform="translate(97.1,101.7) rotate(55)"/><path d="M0,-6.15 C4.19,-2.77 4.19,3.38 0,6.15 C-4.19,3.38 -4.19,-2.77 0,-6.15Z" transform="translate(94.3,112.6) rotate(55)"/><path d="M0,-6.15 C4.19,-2.77 4.19,3.38 0,6.15 C-4.19,3.38 -4.19,-2.77 0,-6.15Z" transform="translate(91.4,122.7) rotate(55)"/><path d="M0,-6.15 C4.19,-2.77 4.19,3.38 0,6.15 C-4.19,3.38 -4.19,-2.77 0,-6.15Z" transform="translate(88.2,132.8) rotate(55)"/></g>
<g stroke="#5f9a1f" stroke-width="1.25"><line x1="88.6" y1="79" x2="91.4" y2="64"/><line x1="92.7" y1="79" x2="95.9" y2="64"/><line x1="96.7" y1="79" x2="100.7" y2="64"/><line x1="100.7" y1="79" x2="105.6" y2="64"/><line x1="104.5" y1="79" x2="110.5" y2="64"/></g>
</svg>
<svg class="abs" style="left:37px;top:204px" width="56" height="56" viewBox="0 0 56 56">
<defs><clipPath id="cav"><circle cx="27.8" cy="27.6" r="27.4"/></clipPath>
<radialGradient id="fg" cx="0.5" cy="0.4" r="0.6"><stop offset="0" stop-color="#d3a58c"/><stop offset="0.7" stop-color="#c08d74"/><stop offset="1" stop-color="#a8765f"/></radialGradient></defs>
<g clip-path="url(#cav)">
<rect width="56" height="56" fill="#4b575e"/>
<rect x="0" y="0" width="14" height="56" fill="#a9b0b3"/>
<rect x="41" y="0" width="15" height="56" fill="#1e2a32"/>
<path d="M41,30 C46,34 50,38 56,36 L56,48 L44,46Z" fill="#3c5566" opacity="0.7"/>
<ellipse cx="28" cy="21" rx="17.5" ry="18" fill="#c4c6c4"/>
<ellipse cx="27.5" cy="26" rx="13.2" ry="18.5" fill="url(#fg)"/>
<ellipse cx="22" cy="24" rx="4" ry="1.6" fill="#86604f" opacity="0.55"/>
<ellipse cx="33" cy="24" rx="4" ry="1.6" fill="#86604f" opacity="0.55"/>
<path d="M27,25 L25.5,31 L29,31Z" fill="#b07c64" opacity="0.6"/>
<path d="M22,36.5 Q27.5,38.5 33,36.5" stroke="#8e5f4c" stroke-width="1.2" fill="none" opacity="0.7"/>
<path d="M2,56 L6,47 Q14,42 22,43.5 L27,50 L33,43 Q42,40 50,45 L54,56 Z" fill="#ebe0bf"/>
<path d="M22,43.5 L27,52 L31,44 Q27,46 22,43.5Z" fill="#7d5443"/>
</g>
</svg>
<div class="t" style="left:115.22px;top:219.58px;font-size:24px;color:#7a8488;letter-spacing:0.061px;-webkit-text-stroke:0.25px #7a8488;">hans.mayer</div>
<div class="abs tri" style="left:344.5px;top:227.3px;border-width:7.2px 7.2px 0 7.2px;border-color:#7a8488 transparent transparent transparent"></div>
<svg class="abs" style="left:43.6px;top:298.6px" width="36" height="36" viewBox="0 0 24 24"><path fill="#7a8488" d="M3 13h8V3H3v10zm0 8h8v-6H3v6zm10 0h8V11h-8v10zm0-18v6h8V3h-8z"/></svg>
<svg class="abs" style="left:43.7px;top:369.3px" width="36" height="36" viewBox="0 0 24 24"><path fill="#7a8488" d="M20 6h-4V4c0-1.11-.89-2-2-2h-4c-1.11 0-2 .89-2 2v2H4c-1.11 0-1.99.89-1.99 2L2 19c0 1.11.89 2 2 2h16c1.11 0 2-.89 2-2V8c0-1.11-.89-2-2-2zm-6 0h-4V4h4v2z"/></svg>
<svg class="abs" style="left:43.8px;top:440.3px" width="36" height="36" viewBox="0 0 24 24"><path fill="#7a8488" d="M19 3H5c-1.1 0-2 .9-2 2v14c0 1.1.9 2 2 2h14c1.1 0 2-.9 2-2V5c0-1.1-.9-2-2-2zM9 17H7v-7h2v7zm4 0h-2V7h2v10zm4 0h-2v-4h2v4z"/></svg>
<svg class="abs" style="left:0;top:500px" width="100" height="60" viewBox="0 500 100 60"><polygon fill="#7a8488" points="67.6,514.6 53.2,529.6 61.6,530.4 55.8,543.9 70.9,528.7 62.6,527.9"/></svg>
<svg class="abs" style="left:43.4px;top:582.2px" width="36" height="36" viewBox="0 0 24 24"><path fill="#7a8488" d="M21 6h-2v9H6v2c0 .55.45 1 1 1h11l4 4V7c0-.55-.45-1-1-1zm-4 6V3c0-.55-.45-1-1-1H3c-.55 0-1 .45-1 1v14l4-4h10c.55 0 1-.45 1-1z"/></svg>
<div class="abs" style="left:337.8px;top:583.5px;width:33.4px;height:33.4px;border-radius:50%;background:#4a8116"></div>
<div class="t" style="left:350.20px;top:594.13px;font-size:14.5px;color:#eaf4dc;font-weight:700;">2</div>
<div class="t" style="left:113.12px;top:305.78px;font-size:24px;color:#7a8488;letter-spacing:-0.131px;-webkit-text-stroke:0.25px #7a8488;">Dashboard</div>
<div class="t" style="left:113.12px;top:376.48px;font-size:24px;color:#7a8488;letter-spacing:-0.407px;-webkit-text-stroke:0.25px #7a8488;">Polizzen</div>
<div class="t" style="left:113.12px;top:447.48px;font-size:24px;color:#7a8488;letter-spacing:0.306px;-webkit-text-stroke:0.25px #7a8488;">Dürreindex</div>
<div class="t" style="left:112.12px;top:518.08px;font-size:24px;color:#7a8488;letter-spacing:-0.275px;-webkit-text-stroke:0.25px #7a8488;">Schäden</div>
<div class="t" style="left:113.22px;top:589.28px;font-size:24px;color:#7a8488;letter-spacing:0.485px;-webkit-text-stroke:0.25px #7a8488;">Nachrichten</div>
<div class="t" style="left:44.62px;top:673.79px;font-size:19.5px;color:#b3b8bb;letter-spacing:1.275px;-webkit-text-stroke:0.45px #b3b8bb;">Service</div>
<div class="abs" style="left:0;top:708.3px;width:393px;height:67.4px;background:#f6f6f1"></div>
<div class="abs" style="left:0;top:708.3px;width:3px;height:67.4px;background:#5f971f"></div>
<div class="t" style="left:111.83px;top:731.58px;font-size:24px;color:#5f971f;letter-spacing:0.696px;-webkit-text-stroke:0.25px #5f971f;">Wetterservice</div>
<div class="t" style="left:118.33px;top:801.78px;font-size:24px;color:#7a8488;letter-spacing:0.370px;-webkit-text-stroke:0.25px #7a8488;">Satelitenservice</div>
<svg class="abs" style="left:38px;top:722px" width="46" height="40" viewBox="38 722 46 40">
<g fill="#5f971f">
<circle cx="55.2" cy="740.2" r="6.6"/>
<rect x="55.3" y="727" width="1.7" height="3.2" rx=".6"/>
<rect x="47.5" y="730.2" width="1.7" height="3.2" rx=".6" transform="rotate(-45 48.3 731.8)"/>
<rect x="63.6" y="730.2" width="1.7" height="3.2" rx=".6" transform="rotate(45 64.4 731.8)"/>
<rect x="43.2" y="739.3" width="3.2" height="1.7" rx=".6"/>
<rect x="47" y="746.8" width="1.7" height="3.2" rx=".6" transform="rotate(45 47.8 748.4)"/>
</g>
<g fill="#f6f6f1" stroke="#f6f6f1" stroke-width="3.2"><circle cx="58.6" cy="750.6" r="5.2"/><circle cx="66.6" cy="746.6" r="8.6"/><circle cx="75.6" cy="751.2" r="4.6"/><rect x="58.6" y="748" width="17" height="7.8"/></g>
<g fill="#5f971f"><circle cx="58.6" cy="750.6" r="5.2"/><circle cx="66.6" cy="746.6" r="8.6"/><circle cx="75.6" cy="751.2" r="4.6"/><rect x="58.6" y="748" width="17" height="7.8"/></g>
</svg>
<svg class="abs" style="left:43.5px;top:794.5px" width="36" height="36" viewBox="0 0 24 24"><path fill="#7a8488" d="M19 3H5c-1.1 0-2 .9-2 2v14c0 1.1.9 2 2 2h14c1.1 0 2-.9 2-2V5c0-1.1-.9-2-2-2zM5 4.99h3C8 6.65 6.66 8 5 8V4.99zM5 12v-2c2.76 0 5-2.25 5-5.01h2C12 8.86 8.87 12 5 12zm0 6l3.5-4.5 2.5 3.01L14.5 12l4.5 6H5z"/></svg>
<div class="t" style="left:478.80px;top:370.73px;font-size:29.5px;color:#5f971f;letter-spacing:0.782px;font-weight:700;">Winterweizen</div>
<div class="abs tri" style="left:700.1px;top:385.8px;border-width:7.6px 7.35px 0 7.35px;border-color:#5f971f transparent transparent transparent"></div>
<div class="t" style="left:834.45px;top:424.71px;font-size:23.5px;color:#6f797d;letter-spacing:0.900px;-webkit-text-stroke:0.5px #6f797d;">Kurzperiode</div>
<div class="t" style="left:834.73px;top:471.11px;font-size:23.5px;color:#7a8488;letter-spacing:0.558px;-webkit-text-stroke:0.25px #7a8488;">Defizit</div>
<div class="t" style="left:1513.15px;top:425.11px;font-size:23.5px;color:#6f797d;letter-spacing:1.118px;-webkit-text-stroke:0.5px #6f797d;">Vegetationsperiode</div>
<div class="t" style="left:1514.42px;top:472.71px;font-size:23.5px;color:#7a8488;letter-spacing:0.542px;-webkit-text-stroke:0.25px #7a8488;">Defizit</div>
<svg class="abs" style="left:1161.9px;top:463.2px" width="19.4" height="25.7" viewBox="0 0 20 28" preserveAspectRatio="none"><path fill="#7a8488" d="M10 0 C7 6 0 12 0 18 A10 10 0 0 0 20 18 C20 12 13 6 10 0Z"/></svg>
<svg class="abs" style="left:1297.2px;top:461.5px" width="28.7" height="29.1" viewBox="1297.2 461.5 28.7 29.1"><circle cx="1312.2" cy="475.7" r="8.6" fill="none" stroke="#7a8488" stroke-width="2.4"/><line x1="1301.0" y1="486.8" x2="1322.1" y2="465.3" stroke="#7a8488" stroke-width="2.4" stroke-linecap="round"/></svg>
<svg class="abs" style="left:1888.4px;top:464.7px" width="18.4" height="25.4" viewBox="0 0 20 28" preserveAspectRatio="none"><path fill="#7a8488" d="M10 0 C7 6 0 12 0 18 A10 10 0 0 0 20 18 C20 12 13 6 10 0Z"/></svg>
<svg class="abs" style="left:2007.5px;top:463.4px" width="28.7" height="28.1" viewBox="2007.5 463.4 28.7 28.1"><circle cx="2022.4" cy="477.1" r="8.6" fill="none" stroke="#7a8488" stroke-width="2.4"/><line x1="2011.3" y1="487.7" x2="2032.4" y2="467.2" stroke="#7a8488" stroke-width="2.4" stroke-linecap="round"/></svg>
<div class="abs" style="left:440.5px;top:593.1px;width:1717.5px;height:85.4px;background:#f6f6f1"></div>
<div class="abs" style="left:440.5px;top:592.10px;width:1717.5px;height:1.8px;background:#e3e3e3"></div>
<div class="abs" style="left:440.5px;top:678.50px;width:1717.5px;height:1.8px;background:#e3e3e3"></div>
<div class="abs" style="left:440.5px;top:764.90px;width:1717.5px;height:1.8px;background:#e3e3e3"></div>
<div class="abs" style="left:440.5px;top:851.30px;width:1717.5px;height:1.8px;background:#e3e3e3"></div>
<div class="abs" style="left:440.5px;top:937.70px;width:1717.5px;height:1.8px;background:#e3e3e3"></div>
<div class="abs" style="left:440.5px;top:1024.10px;width:1717.5px;height:1.8px;background:#e3e3e3"></div>
<div class="abs" style="left:440.5px;top:1110.50px;width:1717.5px;height:1.8px;background:#e3e3e3"></div>
<div class="t" style="left:481.45px;top:540.78px;font-size:24px;color:#737d81;letter-spacing:0.300px;-webkit-text-stroke:0.5px #737d81;">Assling</div>
<div class="t" style="left:831.55px;top:542.53px;font-size:23px;color:#737d81;letter-spacing:-0.650px;-webkit-text-stroke:0.3px #737d81;">84%</div>
<div class="abs" style="left:897.1px;top:543.1px;width:197.9px;height:14.8px;background:#dfe4ea"></div>
<div class="abs" style="left:897.1px;top:543.1px;width:166.9px;height:14.8px;background:#d81e06"></div>
<div class="t" style="left:1158.75px;top:542.53px;font-size:23px;color:#737d81;letter-spacing:0.425px;-webkit-text-stroke:0.3px #737d81;">52 mm</div>
<div class="t" style="left:1298.25px;top:542.53px;font-size:23px;color:#737d81;letter-spacing:-0.020px;-webkit-text-stroke:0.3px #737d81;">144 mm</div>
<div class="t" style="left:1511.75px;top:542.53px;font-size:23px;color:#737d81;letter-spacing:-0.300px;-webkit-text-stroke:0.3px #737d81;">54%</div>
<div class="abs" style="left:1569.2px;top:543.1px;width:198.6px;height:14.8px;background:#dfe4ea"></div>
<div class="abs" style="left:1569.2px;top:543.1px;width:108.5px;height:14.8px;background:#fcbd0b"></div>
<div class="t" style="left:1886.75px;top:542.53px;font-size:23px;color:#737d81;letter-spacing:0.450px;-webkit-text-stroke:0.3px #737d81;">52 mm</div>
<div class="t" style="left:2010.15px;top:542.53px;font-size:23px;color:#737d81;letter-spacing:-0.040px;-webkit-text-stroke:0.3px #737d81;">144 mm</div>
<div class="t" style="left:481.45px;top:627.08px;font-size:24px;color:#5f971f;letter-spacing:1.367px;-webkit-text-stroke:0.5px #5f971f;">Melk</div>
<div class="t" style="left:831.55px;top:628.83px;font-size:23px;color:#5f971f;letter-spacing:-0.650px;-webkit-text-stroke:0.3px #5f971f;">74%</div>
<div class="abs" style="left:896.9px;top:629.4px;width:197.8px;height:14.8px;background:#dfe4ea"></div>
<div class="abs" style="left:896.9px;top:629.4px;width:147.4px;height:14.8px;background:#fcbd0b"></div>
<div class="t" style="left:1158.75px;top:628.83px;font-size:23px;color:#5f971f;letter-spacing:0.800px;-webkit-text-stroke:0.3px #5f971f;">54 mm</div>
<div class="t" style="left:1298.25px;top:628.83px;font-size:23px;color:#5f971f;letter-spacing:-0.360px;-webkit-text-stroke:0.3px #5f971f;">132 mm</div>
<div class="t" style="left:1511.75px;top:628.83px;font-size:23px;color:#5f971f;letter-spacing:0.150px;-webkit-text-stroke:0.3px #5f971f;">66%</div>
<div class="abs" style="left:1569.5px;top:629.4px;width:198.1px;height:14.8px;background:#dfe4ea"></div>
<div class="abs" style="left:1569.5px;top:629.4px;width:131.6px;height:14.8px;background:#fcbd0b"></div>
<div class="t" style="left:1886.75px;top:628.83px;font-size:23px;color:#5f971f;letter-spacing:0.175px;-webkit-text-stroke:0.3px #5f971f;">72 mm</div>
<div class="t" style="left:2010.15px;top:628.83px;font-size:23px;color:#5f971f;letter-spacing:-1.340px;-webkit-text-stroke:0.3px #5f971f;">121 mm</div>
<div class="t" style="left:481.45px;top:713.38px;font-size:24px;color:#737d81;letter-spacing:-0.033px;-webkit-text-stroke:0.5px #737d81;">Ybbs</div>
<div class="t" style="left:831.55px;top:715.13px;font-size:23px;color:#737d81;letter-spacing:0.350px;-webkit-text-stroke:0.3px #737d81;">49%</div>
<div class="abs" style="left:897.1px;top:715.7px;width:197.6px;height:14.8px;background:#dfe4ea"></div>
<div class="abs" style="left:897.1px;top:715.7px;width:97.3px;height:14.8px;background:#62981f"></div>
<div class="t" style="left:1158.75px;top:715.13px;font-size:23px;color:#737d81;letter-spacing:0.425px;-webkit-text-stroke:0.3px #737d81;">52 mm</div>
<div class="t" style="left:1298.25px;top:715.13px;font-size:23px;color:#737d81;letter-spacing:-0.020px;-webkit-text-stroke:0.3px #737d81;">144 mm</div>
<div class="t" style="left:1511.75px;top:715.13px;font-size:23px;color:#737d81;letter-spacing:-0.250px;-webkit-text-stroke:0.3px #737d81;">92%</div>
<div class="abs" style="left:1568.1px;top:715.7px;width:197.6px;height:14.8px;background:#dfe4ea"></div>
<div class="abs" style="left:1568.1px;top:715.7px;width:182.6px;height:14.8px;background:#d81e06"></div>
<div class="t" style="left:1886.75px;top:715.13px;font-size:23px;color:#737d81;letter-spacing:0.450px;-webkit-text-stroke:0.3px #737d81;">52 mm</div>
<div class="t" style="left:2010.15px;top:715.13px;font-size:23px;color:#737d81;letter-spacing:-0.040px;-webkit-text-stroke:0.3px #737d81;">144 mm</div>
<div class="t" style="left:481.45px;top:799.68px;font-size:24px;color:#737d81;letter-spacing:0.867px;-webkit-text-stroke:0.5px #737d81;">Wollmannsberg</div>
<div class="t" style="left:831.55px;top:801.43px;font-size:23px;color:#737d81;letter-spacing:-0.400px;-webkit-text-stroke:0.3px #737d81;">74%</div>
<div class="abs" style="left:893.9px;top:802.0px;width:197.8px;height:14.8px;background:#dfe4ea"></div>
<div class="abs" style="left:893.9px;top:802.0px;width:147.4px;height:14.8px;background:#fcbd0b"></div>
<div class="t" style="left:1158.75px;top:801.43px;font-size:23px;color:#737d81;letter-spacing:0.425px;-webkit-text-stroke:0.3px #737d81;">52 mm</div>
<div class="t" style="left:1298.25px;top:801.43px;font-size:23px;color:#737d81;letter-spacing:-0.020px;-webkit-text-stroke:0.3px #737d81;">144 mm</div>
<div class="t" style="left:1511.75px;top:801.43px;font-size:23px;color:#737d81;letter-spacing:0.150px;-webkit-text-stroke:0.3px #737d81;">66%</div>
<div class="abs" style="left:1569.5px;top:802.0px;width:198.1px;height:14.8px;background:#dfe4ea"></div>
<div class="abs" style="left:1569.5px;top:802.0px;width:131.6px;height:14.8px;background:#fcbd0b"></div>
<div class="t" style="left:1886.75px;top:801.43px;font-size:23px;color:#737d81;letter-spacing:0.450px;-webkit-text-stroke:0.3px #737d81;">52 mm</div>
<div class="t" style="left:2010.15px;top:801.43px;font-size:23px;color:#737d81;letter-spacing:-0.040px;-webkit-text-stroke:0.3px #737d81;">144 mm</div>
<div class="t" style="left:481.45px;top:885.98px;font-size:24px;color:#737d81;letter-spacing:1.123px;-webkit-text-stroke:0.5px #737d81;">Oberolberndorf</div>
<div class="t" style="left:831.55px;top:887.73px;font-size:23px;color:#737d81;letter-spacing:-0.450px;-webkit-text-stroke:0.3px #737d81;">25%</div>
<div class="abs" style="left:895.5px;top:888.3px;width:197.6px;height:14.8px;background:#dfe4ea"></div>
<div class="abs" style="left:895.5px;top:888.3px;width:49.6px;height:14.8px;background:#62981f"></div>
<div class="t" style="left:1158.75px;top:887.73px;font-size:23px;color:#737d81;letter-spacing:0.425px;-webkit-text-stroke:0.3px #737d81;">52 mm</div>
<div class="t" style="left:1298.25px;top:887.73px;font-size:23px;color:#737d81;letter-spacing:-0.020px;-webkit-text-stroke:0.3px #737d81;">144 mm</div>
<div class="t" style="left:1511.75px;top:887.73px;font-size:23px;color:#737d81;letter-spacing:-0.650px;-webkit-text-stroke:0.3px #737d81;">32%</div>
<div class="abs" style="left:1568.1px;top:888.3px;width:197.6px;height:14.8px;background:#dfe4ea"></div>
<div class="abs" style="left:1568.1px;top:888.3px;width:63.5px;height:14.8px;background:#62981f"></div>
<div class="t" style="left:1886.75px;top:887.73px;font-size:23px;color:#737d81;letter-spacing:0.450px;-webkit-text-stroke:0.3px #737d81;">52 mm</div>
<div class="t" style="left:2010.15px;top:887.73px;font-size:23px;color:#737d81;letter-spacing:-0.040px;-webkit-text-stroke:0.3px #737d81;">144 mm</div>
<div class="t" style="left:481.45px;top:972.28px;font-size:24px;color:#737d81;letter-spacing:0.738px;-webkit-text-stroke:0.5px #737d81;">Sierndorf</div>
<div class="t" style="left:831.55px;top:974.03px;font-size:23px;color:#737d81;letter-spacing:-0.700px;-webkit-text-stroke:0.3px #737d81;">32%</div>
<div class="abs" style="left:895.7px;top:974.6px;width:197.5px;height:14.8px;background:#dfe4ea"></div>
<div class="abs" style="left:895.7px;top:974.6px;width:63.2px;height:14.8px;background:#62981f"></div>
<div class="t" style="left:1158.75px;top:974.03px;font-size:23px;color:#737d81;letter-spacing:0.425px;-webkit-text-stroke:0.3px #737d81;">52 mm</div>
<div class="t" style="left:1298.25px;top:974.03px;font-size:23px;color:#737d81;letter-spacing:-0.020px;-webkit-text-stroke:0.3px #737d81;">144 mm</div>
<div class="t" style="left:1511.75px;top:974.03px;font-size:23px;color:#737d81;letter-spacing:0.250px;-webkit-text-stroke:0.3px #737d81;">49%</div>
<div class="abs" style="left:1569.6px;top:974.6px;width:198.5px;height:14.8px;background:#dfe4ea"></div>
<div class="abs" style="left:1569.6px;top:974.6px;width:97.4px;height:14.8px;background:#62981f"></div>
<div class="t" style="left:1886.75px;top:974.03px;font-size:23px;color:#737d81;letter-spacing:0.450px;-webkit-text-stroke:0.3px #737d81;">52 mm</div>
<div class="t" style="left:2010.15px;top:974.03px;font-size:23px;color:#737d81;letter-spacing:-0.040px;-webkit-text-stroke:0.3px #737d81;">144 mm</div>
<div class="t" style="left:481.45px;top:1058.58px;font-size:24px;color:#737d81;letter-spacing:0.811px;-webkit-text-stroke:0.5px #737d81;">Höbersdorf</div>
<div class="t" style="left:831.55px;top:1060.33px;font-size:23px;color:#737d81;letter-spacing:-0.250px;-webkit-text-stroke:0.3px #737d81;">84%</div>
<div class="abs" style="left:896.9px;top:1060.9px;width:197.9px;height:14.8px;background:#dfe4ea"></div>
<div class="abs" style="left:896.9px;top:1060.9px;width:107.8px;height:14.8px;background:#fcbd0b"></div>
<div class="t" style="left:1158.75px;top:1060.33px;font-size:23px;color:#737d81;letter-spacing:0.425px;-webkit-text-stroke:0.3px #737d81;">52 mm</div>
<div class="t" style="left:1298.25px;top:1060.33px;font-size:23px;color:#737d81;letter-spacing:-0.020px;-webkit-text-stroke:0.3px #737d81;">144 mm</div>
<div class="t" style="left:1511.75px;top:1060.33px;font-size:23px;color:#737d81;letter-spacing:-0.250px;-webkit-text-stroke:0.3px #737d81;">54%</div>
<div class="abs" style="left:1569.6px;top:1060.9px;width:198.5px;height:14.8px;background:#dfe4ea"></div>
<div class="abs" style="left:1569.6px;top:1060.9px;width:131.1px;height:14.8px;background:#fcbd0b"></div>
<div class="t" style="left:1886.75px;top:1060.33px;font-size:23px;color:#737d81;letter-spacing:0.450px;-webkit-text-stroke:0.3px #737d81;">52 mm</div>
<div class="t" style="left:2010.15px;top:1060.33px;font-size:23px;color:#737d81;letter-spacing:-0.040px;-webkit-text-stroke:0.3px #737d81;">144 mm</div>
<div class="t" style="left:481.45px;top:1144.88px;font-size:24px;color:#737d81;letter-spacing:0.654px;-webkit-text-stroke:0.5px #737d81;">Untermallebarn</div>
<div class="t" style="left:831.55px;top:1146.63px;font-size:23px;color:#737d81;letter-spacing:0.250px;-webkit-text-stroke:0.3px #737d81;">66%</div>
<div class="abs" style="left:896.9px;top:1147.2px;width:197.9px;height:14.8px;background:#dfe4ea"></div>
<div class="abs" style="left:896.9px;top:1147.2px;width:131.1px;height:14.8px;background:#fcbd0b"></div>
<div class="t" style="left:1158.75px;top:1146.63px;font-size:23px;color:#737d81;letter-spacing:0.425px;-webkit-text-stroke:0.3px #737d81;">52 mm</div>
<div class="t" style="left:1298.25px;top:1146.63px;font-size:23px;color:#737d81;letter-spacing:-0.020px;-webkit-text-stroke:0.3px #737d81;">144 mm</div>
<div class="t" style="left:1511.75px;top:1146.63px;font-size:23px;color:#737d81;letter-spacing:0.250px;-webkit-text-stroke:0.3px #737d81;">49%</div>
<div class="abs" style="left:1569.6px;top:1147.2px;width:198.5px;height:14.8px;background:#dfe4ea"></div>
<div class="abs" style="left:1569.6px;top:1147.2px;width:97.4px;height:14.8px;background:#62981f"></div>
<div class="t" style="left:1886.75px;top:1146.63px;font-size:23px;color:#737d81;letter-spacing:0.450px;-webkit-text-stroke:0.3px #737d81;">52 mm</div>
<div class="t" style="left:2010.15px;top:1146.63px;font-size:23px;color:#737d81;letter-spacing:-0.040px;-webkit-text-stroke:0.3px #737d81;">144 mm</div>

</body></html>
